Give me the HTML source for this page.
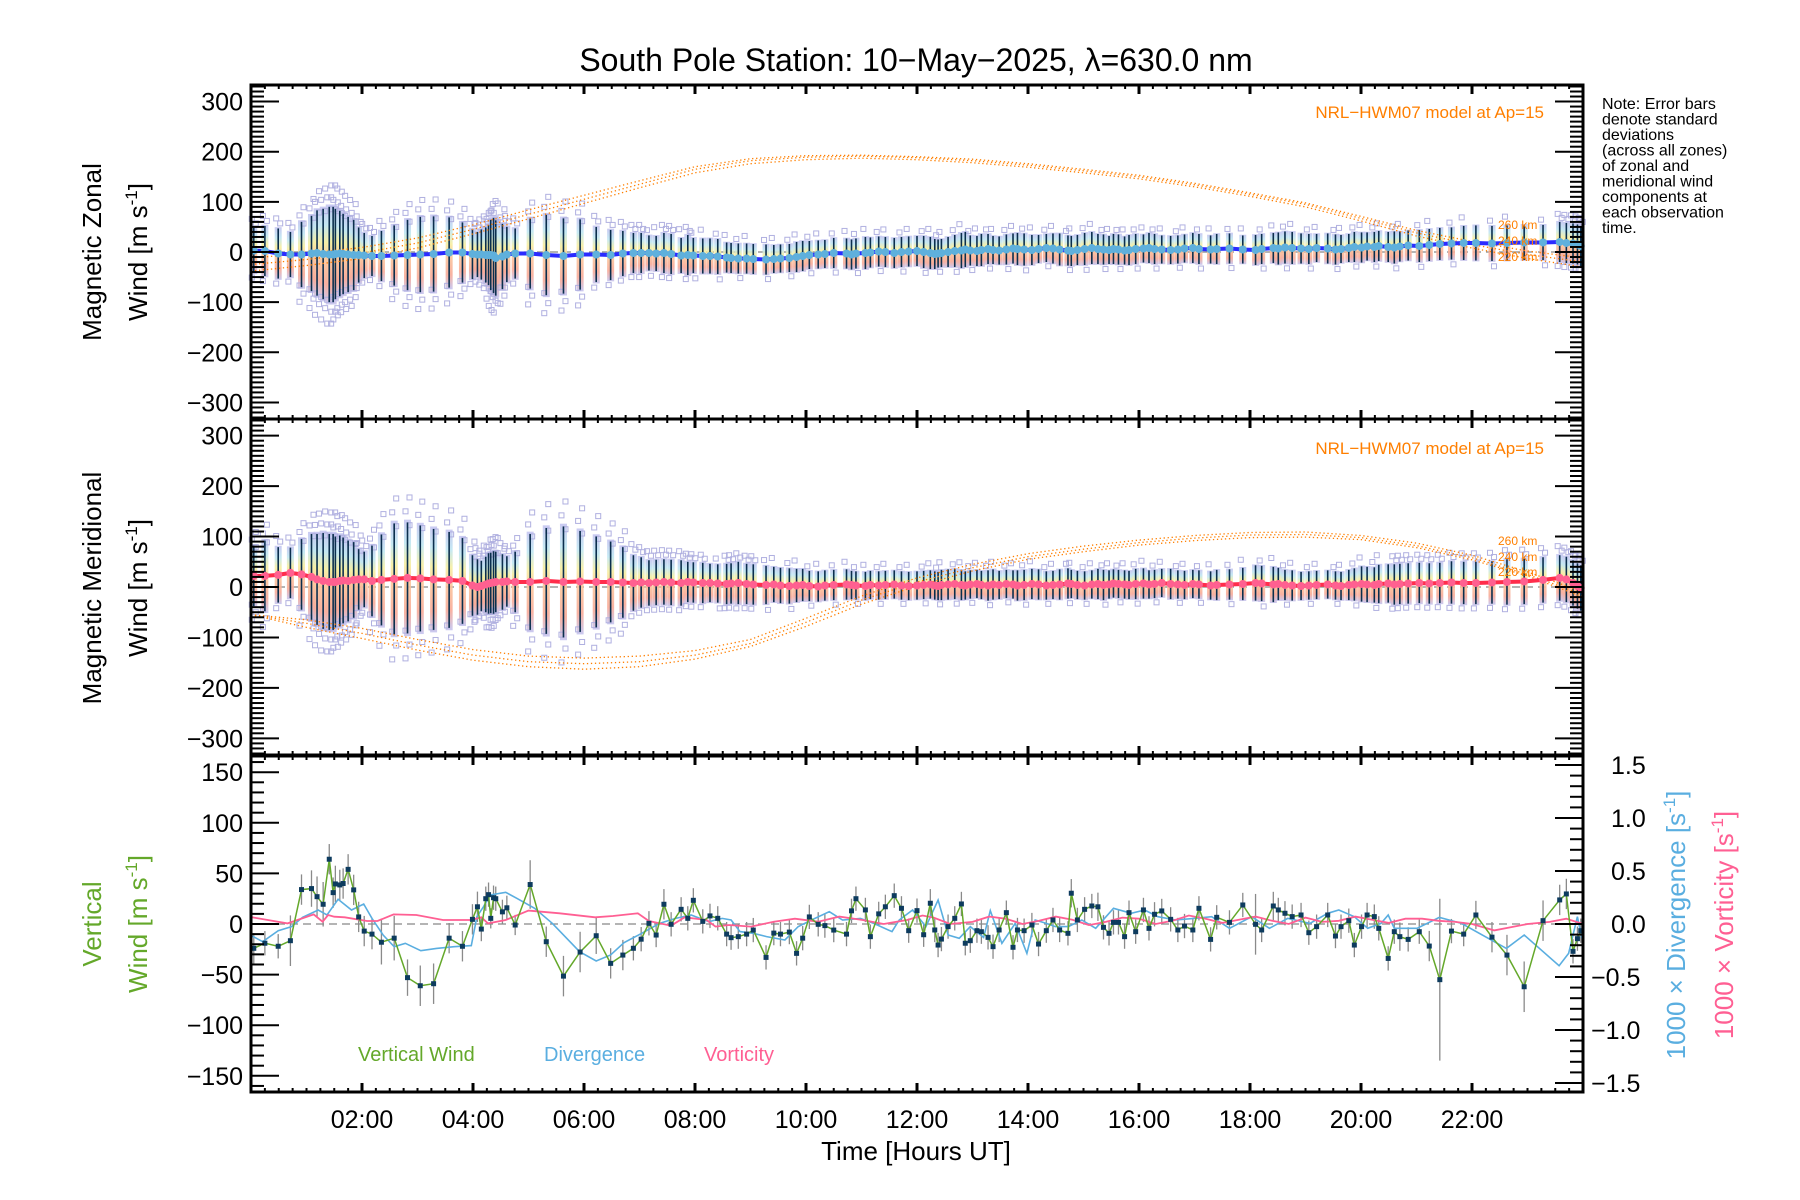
<!DOCTYPE html>
<html><head><meta charset="utf-8"><title>South Pole Station winds</title>
<style>
html,body{margin:0;padding:0;background:#fff;}
svg{display:block;font-family:"Liberation Sans",sans-serif;}
</style></head>
<body>
<svg id="chart" width="1800" height="1200" viewBox="0 0 1800 1200" xmlns="http://www.w3.org/2000/svg">
<defs>
<linearGradient id="bandGrad" x1="0" y1="0" x2="0" y2="1">
<stop offset="0" stop-color="#c4c4f0"/><stop offset="0.2" stop-color="#bfe6f2"/><stop offset="0.38" stop-color="#f6eea0"/><stop offset="0.55" stop-color="#fbc59a"/><stop offset="0.8" stop-color="#f8aa98"/><stop offset="1" stop-color="#c4c4f0"/>
</linearGradient>
</defs>
<text x="916" y="71" font-size="32" text-anchor="middle" fill="#000">South Pole Station: 10−May−2025, λ=630.0 nm</text>
<g font-size="16" fill="#000">
<text x="1602" y="109">Note: Error bars</text>
<text x="1602" y="124.5">denote standard</text>
<text x="1602" y="140">deviations</text>
<text x="1602" y="155.5">(across all zones)</text>
<text x="1602" y="171">of zonal and</text>
<text x="1602" y="186.5">meridional wind</text>
<text x="1602" y="202">components at</text>
<text x="1602" y="217.5">each observation</text>
<text x="1602" y="233">time.</text>
</g>
<g id="plot"></g>
</svg>
<script>
// ---------- data ----------
const obsHours = [0.05,0.25,0.49,0.71,0.91,1.09,1.19,1.30,1.41,1.48,1.52,1.60,1.66,1.75,1.85,1.94,2.04,2.18,2.35,2.58,2.82,3.05,3.29,3.57,3.81,3.99,4.08,4.15,4.23,4.28,4.32,4.37,4.41,4.53,4.61,4.76,5.03,5.32,5.63,5.93,6.22,6.48,6.70,6.89,7.03,7.17,7.30,7.44,7.57,7.75,7.87,7.97,8.14,8.27,8.41,8.57,8.65,8.78,8.93,9.05,9.28,9.42,9.54,9.70,9.83,9.94,10.06,10.22,10.34,10.50,10.73,10.82,10.90,11.07,11.16,11.31,11.43,11.59,
11.72,11.85,12.0,12.12,12.24,12.32,12.38,12.44,12.56,12.68,12.80,12.87,12.96,13.08,13.16,13.28,13.37,13.48,13.61,13.73,13.81,13.93,14.07,14.19,14.33,14.45,14.57,14.72,14.78,14.89,15.02,15.15,15.26,15.36,15.46,15.54,15.63,15.74,15.82,15.94,16.08,16.18,16.28,16.41,16.57,16.70,16.82,16.97,17.08,17.29,17.40,17.63,17.87,18.10,18.21,18.42,18.51,18.63,18.76,18.92,19.06,19.20,19.40,19.54,19.64,19.78,19.88,20.01,20.11,20.24,20.32,20.49,20.60,20.70,20.85,21.05,21.23,21.42,21.63,21.85,22.07,22.36,22.63,22.94,23.28,23.58,23.70,23.82,23.90,23.96];
const zonalMean = [3,2,-3,-5,-5,-3,-2,-4,-5,-5,-4,-3,-4,-5,-6,-6,-7,-8,-8,-7,-6,-5,-4,-1,-1,-4,-5,-5,-6,-6,-6,-7,-12,-9,-5,-3,-3,-6,-8,-5,-5,-6,-3,-2,-2,-2,-3,-2,-4,-7,-6,-7,-8,-8,-9,-11,-12,-13,-13,-14,-15,-14,-13,-12,-10,-8,-6,-5,-4,-2,-3,-5,-3,-2,-1,1,0,-2,
0,1,2,0,-2,-4,-3,-2,0,2,3,5,3,2,4,6,4,3,5,7,6,5,4,6,8,7,5,3,2,4,6,8,6,5,4,6,5,3,4,6,7,8,6,5,4,5,7,8,6,5,6,7,5,4,6,8,7,9,8,7,6,8,7,5,6,8,10,9,11,10,12,10,9,11,13,12,14,16,17,18,18,17,18,19,19,20,18,17,15,12];
const zonalStd = [45,50,50,45,65,75,85,90,95,95,90,85,80,75,70,55,45,40,50,60,70,75,75,70,60,50,45,50,55,60,70,75,75,65,55,50,70,80,75,70,55,50,45,40,40,35,35,40,40,35,40,35,35,35,35,30,30,30,30,30,30,28,28,28,30,30,28,28,28,30,30,30,30,32,30,30,30,30,
30,30,30,32,32,30,28,28,30,32,35,35,30,30,32,30,28,28,30,30,32,32,30,28,28,30,32,30,30,30,32,32,30,30,28,30,30,28,30,30,28,30,30,28,28,28,28,30,30,28,30,30,28,30,30,30,32,32,32,30,30,28,30,30,28,28,30,30,28,30,30,30,32,30,30,32,32,32,32,34,35,35,35,35,35,40,40,40,40,40];
const meridMean = [22,22,24,28,25,20,15,12,10,10,10,12,13,12,14,15,15,12,14,16,18,17,15,14,12,3,0,2,5,7,8,9,10,10,11,10,10,12,10,11,10,10,9,8,9,8,9,10,9,8,10,9,8,8,7,6,7,8,6,5,4,5,3,2,3,4,2,1,3,4,5,4,3,2,4,3,4,5,
3,2,3,4,5,3,2,4,5,6,4,3,5,6,4,3,5,4,6,5,3,4,6,5,3,4,5,7,6,4,3,5,6,4,5,7,6,5,4,6,7,5,6,8,6,5,4,6,5,3,4,5,6,8,7,5,6,4,3,2,3,4,5,3,2,4,5,6,5,4,6,7,5,6,7,8,7,8,9,8,8,9,10,11,14,18,15,8,2,-2];
const meridStd = [60,70,55,50,70,85,90,95,95,95,90,90,85,80,75,60,55,70,90,110,110,105,100,95,85,60,55,50,55,60,60,62,60,55,50,60,95,105,110,100,90,80,70,55,50,45,45,45,45,45,40,40,40,38,38,40,40,42,40,40,38,35,35,35,33,32,30,30,30,30,30,28,28,28,28,28,28,28,
28,28,28,28,28,28,28,30,30,30,30,28,28,28,28,30,30,28,28,28,30,30,30,30,28,28,30,30,28,28,28,28,30,30,28,28,28,28,28,30,30,28,28,28,30,28,28,28,28,28,30,30,32,35,35,35,32,30,30,28,28,28,28,28,28,30,32,35,35,35,38,38,40,40,40,40,40,40,42,42,42,42,45,45,45,45,45,45,45,45];
const vertWind = [-24,-19,-22,-16.5,34,35,27,19.5,64,31,39.6,38.6,40,54,33.7,7,-7,-10,-18,-14,-53,-61,-59,-14,-22,4.6,17,-5,25,29,5.6,26,25,12,16,-1,39,-17.5,-51.5,-27.7,-11.6,-38.9,-30.7,-24,-15,0.7,-10.9,19.5,-0.3,14.5,5.6,23.4,2.6,8,5.6,-10,-13.5,-12.5,-10,-6,-33,-9,-10,-8,-29,-14,7,-0.3,-1.6,-6,-10,13,25,13.9,-12.5,10,17,28,
15.5,-6.6,13.2,-10.6,20.5,-5.9,-20.8,-14.9,-2.6,5.6,19.8,-19,-16.5,-6.6,-7.6,-13.2,-22.4,-5.9,11.2,-23,-5.9,-6.6,-1,-19.8,-6.6,4,-5.9,-9.2,30.4,4,14.5,17.8,17,-3.3,-9.2,1.6,1.6,-12.5,11.2,-7.6,13.9,-4.3,9.6,12.9,4.6,-5.9,-2,-5.9,15.5,-15.2,6.6,1.6,18.8,-0.3,-5.9,17.8,13.9,10.6,7.3,8.9,-8.6,-2.6,8.9,-11.9,-2.6,3.3,-20.8,-2.6,8.9,7.3,-4.3,-34,-7.6,-12.5,-15.2,-7.6,-21.8,-55,-7,-10,8.9,-13,-30.7,-62,3.3,23.8,29.7,-27,-14.5,-6.6];
const vertErr = [15,12,12,25,15,18,20,22,15,15,18,15,15,15,15,15,15,15,22,22,18,20,20,15,15,15,15,12,12,12,10,12,12,12,12,10,24,15,20,20,18,15,15,12,12,12,12,15,12,12,12,12,12,12,12,12,12,12,12,12,12,12,12,12,12,12,12,12,12,12,12,12,12,12,12,12,12,12,
12,12,12,12,14,12,12,12,12,12,12,12,12,12,12,12,12,12,12,12,12,12,12,12,12,12,12,12,14,12,12,12,14,12,12,12,12,12,12,12,12,12,12,12,12,12,12,12,12,12,12,12,12,30,12,14,12,12,12,12,12,12,12,12,12,12,12,12,12,12,12,12,12,14,12,12,15,80,12,12,14,15,20,25,20,15,15,12,12,12];
const divHours = [0.02,0.21,0.49,0.73,0.93,1.21,1.37,1.57,1.81,2.03,2.18,2.38,2.58,2.78,3.06,3.34,3.66,3.97,4.07,4.19,4.31,4.59,4.79,5.11,5.43,5.92,6.22,6.48,6.72,7.04,7.36,7.65,7.93,8.25,8.49,8.65,8.81,9.05,9.29,9.62,9.86,10.10,10.42,10.66,10.98,11.22,11.55,
11.68,11.92,12.16,12.38,12.56,12.76,12.96,13.20,13.32,13.53,13.77,13.98,14.13,14.33,14.49,14.73,14.97,15.22,15.54,15.86,16.10,16.34,16.66,16.99,17.31,17.63,18.03,18.35,18.68,19.08,19.40,19.60,19.88,20.12,20.36,20.49,20.60,21.01,21.41,21.81,22.62,22.94,23.57,23.74,23.90,23.98];
const divergence = [-0.113,-0.167,-0.063,-0.025,0.063,0.132,0.085,0.233,0.132,0.189,0.053,-0.104,-0.214,-0.182,-0.252,-0.230,-0.214,-0.204,0.069,0.163,0.274,0.299,0.242,0.148,0.006,-0.261,-0.349,-0.292,-0.176,-0.088,0.006,0.053,0.085,0.022,0.053,0.038,-0.072,-0.088,-0.119,-0.151,-0.025,0.038,0.116,0.038,0.053,0.006,-0.072,
0.038,0.132,-0.025,0.226,-0.104,-0.135,-0.025,-0.126,0.126,-0.182,0.006,-0.277,0.038,0.006,-0.025,-0.025,0.038,-0.041,0.148,0.101,0.132,0.069,0.038,0.053,0.069,-0.041,0.069,-0.041,0.053,0.006,0.101,0.132,0.069,-0.041,0.006,0.085,-0.041,-0.041,0.062,0.006,-0.230,-0.104,-0.393,-0.277,0.069,-0.135];
const vortHours = [0.02,0.66,1.13,1.29,1.39,1.50,1.69,2.09,2.28,2.57,2.98,3.46,3.97,4.15,4.27,4.59,5.0,5.56,6.2,6.52,6.97,7.17,7.57,7.81,8.21,8.37,8.61,9.01,9.42,9.8,10.22,10.6,11.02,11.4,11.82,12.1,12.3,12.6,13.0,13.3,13.6,13.9,14.2,14.5,14.8,15.1,15.4,15.7,16.0,16.3,16.6,16.9,17.2,17.5,17.8,18.1,18.4,18.7,19.0,19.3,19.6,19.9,20.2,20.5,20.8,21.1,21.4,21.7,22.0,22.4,23.0,23.4,23.7,24.0];
const vorticity = [0.063,0.006,0.091,0.022,0.085,0.069,0.063,0.028,0.028,0.091,0.085,0.038,0.038,0.063,0.006,0.038,0.126,0.101,0.063,0.075,0.101,0.028,-0.016,0.063,0.038,-0.025,-0.009,-0.025,0.022,0.05,0.022,0.07,0.038,0.0,0.038,0.08,0.06,0.0,0.02,0.07,0.05,0.0,0.03,0.07,0.04,-0.01,0.02,0.06,0.05,0.0,0.03,0.08,0.05,0.01,0.04,0.07,0.03,0.0,0.06,0.02,0.03,0.07,0.04,0.01,0.05,0.05,0.03,0.02,0.0,-0.06,0.0,0.02,0.05,0.0];
const modelHours = [0,1,2,3,4,5,6,7,8,9,10,11,12,13,14,15,16,17,18,19,20,21,22,23,24];
const zonalModel220 = [-38,-27,-13,8,36,66,97,128,158,176,184,187,184,178,169,158,146,130,111,90,62,32,8,-13,-30];
const zonalModel240 = [-25,-15,-2,18,45,75,105,135,165,182,189,191,188,182,173,162,150,134,115,95,67,38,15,-5,-20];
const zonalModel260 = [-12,-3,9,28,54,84,113,142,170,186,192,193,190,185,176,165,153,137,118,98,71,43,21,2,-12];
const meridModel220 = [-55,-80,-102,-125,-145,-158,-163,-158,-143,-118,-78,-34,2,32,55,70,83,92,98,99,94,78,54,22,-20];
const meridModel240 = [-55,-72,-92,-115,-135,-148,-152,-148,-135,-112,-70,-26,10,38,60,75,88,97,103,104,98,82,58,25,-15];
const meridModel260 = [-55,-65,-82,-104,-124,-137,-141,-137,-126,-104,-62,-18,18,45,66,81,93,102,108,109,102,87,63,30,-10];
const xTickLabels = ["02:00","04:00","06:00","08:00","10:00","12:00","14:00","16:00","18:00","20:00","22:00"];
const windTicks = [-300,-200,-100,0,100,200,300];
const vertTicks = [-150,-100,-50,0,50,100,150];
const rightTicks = ["−1.5","−1.0","−0.5","0.0","0.5","1.0","1.5"];

// ---------- helpers ----------
const NS = "http://www.w3.org/2000/svg";
const root = document.getElementById("plot");
function mk(tag, attrs, parent) {
  const e = document.createElementNS(NS, tag);
  for (const k in attrs) e.setAttribute(k, attrs[k]);
  (parent || root).appendChild(e);
  return e;
}
const X0 = 251, X1 = 1583;
const xs = h => X0 + (h / 24) * (X1 - X0);
const panels = [
  {top: 85, bot: 419, min: -333, max: 333},
  {top: 419, bot: 755, min: -333, max: 333},
  {top: 756, bot: 1092, min: -166, max: 166}
];
const ys = (p, v) => p.bot - (v - p.min) / (p.max - p.min) * (p.bot - p.top);
const yr = v => 924 - v * 106;
const n = Math.min(obsHours.length, zonalMean.length, zonalStd.length, meridMean.length, meridStd.length);

function modelCurves(p, arrs, g) {
  arrs.forEach(arr => {
    const pts = modelHours.map((h, i) => xs(h).toFixed(1) + "," + ys(p, arr[i]).toFixed(1)).join(" ");
    const pl = mk("polyline", {points: pts, fill: "none", stroke: "#ff7f00", "stroke-width": 1.3, "stroke-dasharray": "1.3,2.7"}, g);
    
    
  });
}

function windPanel(p, mean, std, name) {
  const g = mk("g", {});
  
  
  mk("line", {x1: X0, x2: X1, y1: ys(p, 0), y2: ys(p, 0), stroke: "#888", "stroke-width": 1.2, "stroke-dasharray": "8,5"}, g);
  for (let i = 0; i < n; i++) {
    const x = xs(obsHours[i]);
    const band = mk("rect", {x: x - 3.5, y: ys(p, mean[i] + std[i] * 1.05), width: 7, height: ys(p, mean[i] - std[i] * 1.05) - ys(p, mean[i] + std[i] * 1.05), fill: "url(#bandGrad)", opacity: 0.9}, g);
    
    
  }
  for (let i = 0; i < n; i++) {
    const x = xs(obsHours[i]);
    let ks;
    if (std[i] >= 60) ks = [-1.45, -1.2, -0.95, 0.95, 1.2, 1.45];
    else if (std[i] >= 40) ks = [-1.2, 1.2, 1.4];
    else ks = (i % 3 === 0) ? [1.3, -1.3] : (i % 3 === 1 ? [1.5] : []);
    ks.forEach((k, j) => {
      const sq = mk("rect", {x: x - 2.5 + (j % 2 ? 2 : -2), y: ys(p, mean[i] + std[i] * k) - 2.5, width: 5, height: 5, fill: "none", stroke: "#b0b0e0", "stroke-width": 1}, g);
      
      
    });
  }
  for (let i = 0; i < n; i++) {
    const x = xs(obsHours[i]);
    const eb = mk("line", {x1: x, x2: x, y1: ys(p, mean[i] + std[i]), y2: ys(p, mean[i] - std[i]), stroke: "#0b2f4d", "stroke-width": 1.6}, g);
    
    
  }
  return g;
}
function meanLine(p, mean, lineColor, dotColor, name, g) {
  const pts = [];
  for (let i = 0; i < n; i++) pts.push(xs(obsHours[i]).toFixed(1) + "," + ys(p, mean[i]).toFixed(1));
  const pl = mk("polyline", {points: pts.join(" "), fill: "none", stroke: lineColor, "stroke-width": 4}, g);
  
  
  for (let i = 0; i < n; i++) {
    const c = mk("circle", {cx: xs(obsHours[i]), cy: ys(p, mean[i]), r: 4, fill: dotColor}, g);
    
    
  }
}

const g1 = windPanel(panels[0], zonalMean, zonalStd, "zonal");
modelCurves(panels[0], [zonalModel220, zonalModel240, zonalModel260], g1);
meanLine(panels[0], zonalMean, "#2b2bff", "#5fb0dc", "zonal", g1);
const g2 = windPanel(panels[1], meridMean, meridStd, "meridional");
modelCurves(panels[1], [meridModel220, meridModel240, meridModel260], g2);
meanLine(panels[1], meridMean, "#ff2d4b", "#ff6090", "meridional", g2);

const p3 = panels[2];
const g3 = mk("g", {});


mk("line", {x1: X0, x2: X1, y1: ys(p3, 0), y2: ys(p3, 0), stroke: "#888", "stroke-width": 1.2, "stroke-dasharray": "8,5"}, g3);
const nv = Math.min(obsHours.length, vertWind.length, vertErr.length);
for (let i = 0; i < nv; i++) {
  const x = xs(obsHours[i]);
  const eb = mk("line", {x1: x, x2: x, y1: ys(p3, vertWind[i] + vertErr[i]), y2: ys(p3, vertWind[i] - vertErr[i]), stroke: "#8a8a8a", "stroke-width": 1.3}, g3);
  
  
}
{
  const nd = Math.min(divHours.length, divergence.length);
  const pts = []; for (let i = 0; i < nd; i++) pts.push(xs(divHours[i]).toFixed(1) + "," + yr(divergence[i]).toFixed(1));
  const pl = mk("polyline", {points: pts.join(" "), fill: "none", stroke: "#5aaee0", "stroke-width": 1.6}, g3);
  
  
  const no = Math.min(vortHours.length, vorticity.length);
  const pv = []; for (let i = 0; i < no; i++) pv.push(xs(vortHours[i]).toFixed(1) + "," + yr(vorticity[i]).toFixed(1));
  const pl2 = mk("polyline", {points: pv.join(" "), fill: "none", stroke: "#ff5f93", "stroke-width": 1.8}, g3);
  
  
  const pw = []; for (let i = 0; i < nv; i++) pw.push(xs(obsHours[i]).toFixed(1) + "," + ys(p3, vertWind[i]).toFixed(1));
  const pl3 = mk("polyline", {points: pw.join(" "), fill: "none", stroke: "#64a82a", "stroke-width": 1.5}, g3);
  
  
  for (let i = 0; i < nv; i++) {
    const s = mk("rect", {x: xs(obsHours[i]) - 2.5, y: ys(p3, vertWind[i]) - 2.5, width: 5, height: 5, fill: "#0d3b5e"}, g3);
    
    
  }
}

// ---------- axes ----------
const ax = mk("g", {});


panels.forEach((p, pi) => {
  const fr = mk("rect", {x: X0, y: p.top, width: X1 - X0, height: p.bot - p.top, fill: "none", stroke: "#000", "stroke-width": 3}, ax);
  
  
  for (let q = 0; q <= 96; q++) {
    const x = xs(q / 4), L = q % 8 === 0 ? 9 : 4;
    mk("line", {x1: x, x2: x, y1: p.top, y2: p.top + L, stroke: "#000", "stroke-width": q % 8 === 0 ? 3 : 2}, ax);
    mk("line", {x1: x, x2: x, y1: p.bot, y2: p.bot - L, stroke: "#000", "stroke-width": q % 8 === 0 ? 3 : 2}, ax);
  }
  if (pi < 2) {
    for (let v = -330; v <= 330; v += 10) {
      const y = ys(p, v), L = v % 100 === 0 ? 28 : 13;
      mk("line", {x1: X0, x2: X0 + L, y1: y, y2: y, stroke: "#000", "stroke-width": 2}, ax);
      mk("line", {x1: X1, x2: X1 - L, y1: y, y2: y, stroke: "#000", "stroke-width": 2}, ax);
    }
    windTicks.forEach(v => {
      const t = mk("text", {x: 243, y: ys(p, v) + 9, "font-size": 25, "text-anchor": "end"}, ax);
      t.textContent = v < 0 ? "−" + Math.abs(v) : String(v);
      
      
    });
  } else {
    for (let v = -160; v <= 160; v += 10) {
      const y = ys(p, v), L = v % 50 === 0 ? 28 : 13;
      mk("line", {x1: X0, x2: X0 + L, y1: y, y2: y, stroke: "#000", "stroke-width": 2}, ax);
    }
    for (let k = -15; k <= 15; k++) {
      const y = yr(k / 10), L = k % 5 === 0 ? 28 : 13;
      mk("line", {x1: X1, x2: X1 - L, y1: y, y2: y, stroke: "#000", "stroke-width": 2}, ax);
    }
    vertTicks.forEach(v => {
      const t = mk("text", {x: 243, y: ys(p, v) + 9, "font-size": 25, "text-anchor": "end"}, ax);
      t.textContent = v < 0 ? "−" + Math.abs(v) : String(v);
      
      
    });
    rightTicks.forEach((s, k) => {
      const t = mk("text", {x: s[0] === "−" ? 1591 : 1611, y: yr((k - 3) / 2) + 9, "font-size": 25}, ax);
      t.textContent = s;
      
      
    });
  }
});
xTickLabels.forEach((s, k) => {
  const t = mk("text", {x: xs(2 + 2 * k), y: 1128, "font-size": 25, "text-anchor": "middle"}, ax);
  t.textContent = s;
  
  
});
</script>
<script>
const NS2 = "http://www.w3.org/2000/svg";
const svg = document.getElementById("chart");
function lab(html){ const g = document.createElementNS(NS2,"g"); g.innerHTML = html; svg.appendChild(g); }
lab(`
<text x="916" y="1160" font-size="26" text-anchor="middle">Time [Hours UT]</text>
<g font-size="26">
<text transform="translate(101,252) rotate(-90)" text-anchor="middle">Magnetic Zonal</text>
<text transform="translate(147,252) rotate(-90)" text-anchor="middle">Wind [m s<tspan font-size="17" dy="-10">-1</tspan><tspan dy="10">]</tspan></text>
</g>
<g font-size="26">
<text transform="translate(101,588) rotate(-90)" text-anchor="middle">Magnetic Meridional</text>
<text transform="translate(147,588) rotate(-90)" text-anchor="middle">Wind [m s<tspan font-size="17" dy="-10">-1</tspan><tspan dy="10">]</tspan></text>
</g>
<g font-size="26" fill="#64a82a">
<text transform="translate(101,924) rotate(-90)" text-anchor="middle">Vertical</text>
<text transform="translate(147,924) rotate(-90)" text-anchor="middle">Wind [m s<tspan font-size="17" dy="-10">-1</tspan><tspan dy="10">]</tspan></text>
</g>
<text transform="translate(1685,925) rotate(-90)" font-size="26" fill="#5aaee0" text-anchor="middle">1000 × Divergence [s<tspan font-size="17" dy="-10">-1</tspan><tspan dy="10">]</tspan></text>
<text transform="translate(1733,925) rotate(-90)" font-size="26" fill="#ff5f93" text-anchor="middle">1000 × Vorticity [s<tspan font-size="17" dy="-10">-1</tspan><tspan dy="10">]</tspan></text>
<text x="1544" y="118" font-size="17" fill="#ff7f00" text-anchor="end">NRL−HWM07 model at Ap=15</text>
<text x="1544" y="454" font-size="17" fill="#ff7f00" text-anchor="end">NRL−HWM07 model at Ap=15</text>
<g font-size="12" fill="#ff7f00">
<text x="1498" y="229">260 km</text><text x="1498" y="245">240 km</text><text x="1498" y="261">220 km</text></g>
<g font-size="12" fill="#ff7f00">
<text x="1498" y="545">260 km</text><text x="1498" y="561">240 km</text><text x="1498" y="576">220 km</text></g>
<text x="358" y="1061" font-size="20" fill="#64a82a">Vertical Wind</text>
<text x="544" y="1061" font-size="20" fill="#5aaee0">Divergence</text>
<text x="704" y="1061" font-size="20" fill="#ff5f93">Vorticity</text>
`);
</script>
</body></html>
